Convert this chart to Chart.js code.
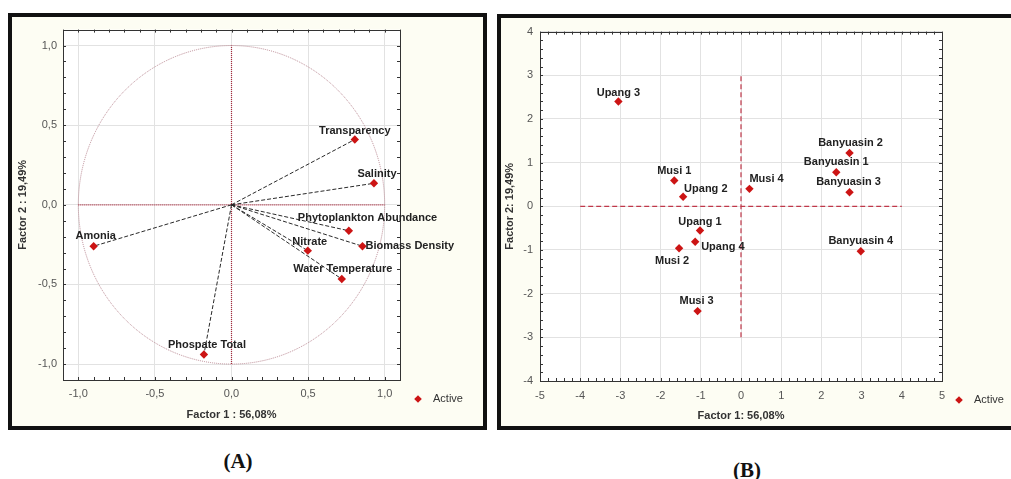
<!DOCTYPE html>
<html lang="en">
<head>
<meta charset="UTF-8">
<title>PCA factor plots</title>
<script src="https://cdn.jsdelivr.net/npm/chart.js"></script>
<style>
  body { margin: 0; background: #fff; width: 1011px; height: 479px; overflow: hidden; position: relative; }
  .frame { position: absolute; border: 4px solid #111; background: #fdfdf3; box-sizing: border-box; overflow: hidden; }
  #frameA { left: 8px; top: 13px; width: 479px; height: 417px; }
  #frameB { left: 497px; top: 14px; width: 530px; height: 416px; }
  .frame canvas { position: absolute; left: 0; top: 0; }
  .cap { position: absolute; font-family: "Liberation Serif", "DejaVu Serif", serif; font-weight: bold; font-size: 21px; transform: translate(-50%, -50%); color: #111; }
</style>
</head>
<body>
<div class="frame" id="frameA"><canvas id="chartA" width="471" height="409"></canvas></div>
<div class="frame" id="frameB"><canvas id="chartB" width="510" height="408"></canvas></div>
<div class="cap" style="left:238px; top:461px;">(A)</div>
<div class="cap" style="left:747px; top:470px;">(B)</div>

<script>
// (A) variable loadings
const variables = ["Transparency", "Salinity", "Phytoplankton Abundance", "Biomass Density",
                   "Nitrate", "Water Temperature", "Amonia", "Phospate Total"];
const factor1Loadings = [0.805, 0.93, 0.766, 0.855, 0.498, 0.72, -0.90, -0.18];
const factor2Loadings = [0.41, 0.135, -0.163, -0.26, -0.288, -0.466, -0.26, -0.94];

// (B) site scores
const sites = ["Upang 3", "Banyuasin 2", "Banyuasin 1", "Banyuasin 3", "Musi 1", "Upang 2",
               "Musi 4", "Upang 1", "Upang 4", "Musi 2", "Banyuasin 4", "Musi 3"];
const factor1Scores = [-3.05, 2.70, 2.37, 2.70, -1.66, -1.44, 0.21, -1.02, -1.14, -1.54, 2.98, -1.08];
const factor2Scores = [2.40, 1.22, 0.78, 0.32, 0.59, 0.22, 0.40, -0.555, -0.81, -0.96, -1.03, -2.40];

// label placement [dx, dy, align] relative to each point
const varLabelPos = [[0, -9, "center"], [3, -9, "center"], [-51, -13, "left"], [3, 0, "left"],
                     [2, -9, "center"], [1, -10, "center"], [2, -10, "center"], [3, -10, "center"]];
const siteLabelPos = [[0, -9, "center"], [1, -10, "center"], [0, -10, "center"], [-1, -10, "center"],
                      [0, -10, "center"], [1, -8, "left"], [0, -10, "left"], [0, -9, "center"],
                      [6, 5, "left"], [-7, 13, "center"], [0, -10, "center"], [-1, -10, "center"]];

const FONT = '"Liberation Sans", Arial, sans-serif';
Chart.defaults.font.family = FONT;
Chart.defaults.animation = false;

const RED = "#cc1414";

// frame, reference lines, circle, vectors, labels and legend
const decor = {
  id: "decor",
  beforeDraw(chart) {
    const { ctx, chartArea: a } = chart;
    ctx.save();
    ctx.fillStyle = "#fff";
    ctx.fillRect(a.left, a.top, a.right - a.left, a.bottom - a.top);
    ctx.restore();
  },
  beforeDatasetsDraw(chart, args, o) {
    const { ctx, scales: { x, y } } = chart;
    const x0 = x.getPixelForValue(0), y0 = y.getPixelForValue(0);
    ctx.save();
    ctx.lineWidth = 1;
    if (o.circle) {
      ctx.strokeStyle = "#bb8a94";
      ctx.setLineDash([1, 1]);
      ctx.beginPath();
      ctx.ellipse(x0, y0, x.getPixelForValue(1) - x0, y0 - y.getPixelForValue(1), 0, 0, Math.PI * 2);
      ctx.stroke();
    }
    ctx.strokeStyle = o.refColor;
    ctx.lineWidth = o.refWidth;
    ctx.setLineDash(o.refDash);
    ctx.beginPath();
    ctx.moveTo(x.getPixelForValue(o.hSpan[0]), y0);
    ctx.lineTo(x.getPixelForValue(o.hSpan[1]), y0);
    ctx.moveTo(x0, y.getPixelForValue(o.vSpan[0]));
    ctx.lineTo(x0, y.getPixelForValue(o.vSpan[1]));
    ctx.stroke();
    if (o.vectors) {
      ctx.strokeStyle = "#2a2a2a";
      ctx.lineWidth = 1;
      ctx.setLineDash([4, 2]);
      ctx.beginPath();
      chart.getDatasetMeta(0).data.forEach(p => { ctx.moveTo(x0, y0); ctx.lineTo(p.x, p.y); });
      ctx.stroke();
    }
    ctx.restore();
  },
  afterDatasetsDraw(chart, args, o) {
    const { ctx, chartArea: a, scales: { x, y } } = chart;
    ctx.save();
    // plot border with inward minor ticks
    ctx.strokeStyle = "#333";
    ctx.lineWidth = 1;
    ctx.strokeRect(Math.round(a.left) + 0.5, Math.round(a.top) + 0.5,
                   Math.round(a.right - a.left), Math.round(a.bottom - a.top));
    ctx.beginPath();
    const nx = Math.round((x.max - x.min) / o.minorX);
    for (let i = 0; i <= nx; i++) {
      const px = Math.round(x.getPixelForValue(x.min + i * o.minorX)) + 0.5;
      ctx.moveTo(px, a.bottom); ctx.lineTo(px, a.bottom - 3);
      ctx.moveTo(px, a.top); ctx.lineTo(px, a.top + 3);
    }
    const ny = Math.round((y.max - y.min) / o.minorY);
    for (let i = 0; i <= ny; i++) {
      const py = Math.round(y.getPixelForValue(y.min + i * o.minorY)) + 0.5;
      ctx.moveTo(a.left, py); ctx.lineTo(a.left + 3, py);
      ctx.moveTo(a.right, py); ctx.lineTo(a.right - 3, py);
    }
    ctx.stroke();

    // point labels
    ctx.font = "bold 11px " + FONT;
    ctx.fillStyle = "#222";
    ctx.textBaseline = "middle";
    chart.getDatasetMeta(0).data.forEach((p, i) => {
      const [dx, dy, align] = o.labelPos[i];
      ctx.textAlign = align;
      ctx.fillText(o.labels[i], p.x + dx, p.y + dy);
    });

    // legend
    const lx = a.right + o.legendDx, ly = a.bottom + 19;
    ctx.fillStyle = RED;
    ctx.beginPath();
    ctx.moveTo(lx, ly - 3.8); ctx.lineTo(lx + 3.8, ly); ctx.lineTo(lx, ly + 3.8); ctx.lineTo(lx - 3.8, ly);
    ctx.closePath();
    ctx.fill();
    ctx.font = "11px " + FONT;
    ctx.fillStyle = "#333";
    ctx.textAlign = "left";
    ctx.fillText("Active", lx + 15, ly);
    ctx.restore();
  }
};

const tickFont = { size: 11 };
const titleFont = { size: 11, weight: "bold" };
const comma = v => v.toFixed(1).replace(".", ",");

new Chart(document.getElementById("chartA"), {
  type: "scatter",
  data: {
    datasets: [{
      data: variables.map((_, i) => ({ x: factor1Loadings[i], y: factor2Loadings[i] })),
      pointStyle: "rectRot",
      pointRadius: 4.2,
      backgroundColor: RED,
      borderColor: RED,
      borderWidth: 0
    }]
  },
  options: {
    responsive: false,
    events: [],
    layout: { padding: { left: 0, right: 83, top: 11, bottom: 4 } },
    plugins: {
      legend: { display: false },
      tooltip: { enabled: false },
      decor: {
        circle: true, vectors: true,
        refColor: "#a8283c", refDash: [1, 1], refWidth: 1.2,
        hSpan: [-1, 1], vSpan: [-1, 1],
        minorX: 0.1, minorY: 0.1,
        labels: variables, labelPos: varLabelPos,
        legendDx: 18
      }
    },
    scales: {
      x: {
        type: "linear", min: -1.1, max: 1.1,
        ticks: { stepSize: 0.5, includeBounds: false, padding: 7, color: "#555", font: tickFont, callback: comma },
        grid: { color: "#e2e2e2", drawTicks: false },
        border: { display: false },
        title: { display: true, text: "Factor 1 : 56,08%", color: "#333", font: titleFont, padding: 0 },
        afterFit: s => { s.height = 42; }
      },
      y: {
        type: "linear", min: -1.1, max: 1.1,
        ticks: { stepSize: 0.5, includeBounds: false, padding: 6, color: "#555", font: tickFont, callback: comma },
        grid: { color: "#e2e2e2", drawTicks: false },
        border: { display: false },
        title: { display: true, text: "Factor 2 : 19,49%", color: "#333", font: titleFont, padding: { top: 4, bottom: 0 } },
        afterFit: s => { s.width = 51; }
      }
    }
  },
  plugins: [decor]
});

new Chart(document.getElementById("chartB"), {
  type: "scatter",
  data: {
    datasets: [{
      data: sites.map((_, i) => ({ x: factor1Scores[i], y: factor2Scores[i] })),
      pointStyle: "rectRot",
      pointRadius: 4.2,
      backgroundColor: RED,
      borderColor: RED,
      borderWidth: 0
    }]
  },
  options: {
    responsive: false,
    events: [],
    layout: { padding: { left: 0, right: 69, top: 12, bottom: 3 } },
    plugins: {
      legend: { display: false },
      tooltip: { enabled: false },
      decor: {
        circle: false, vectors: false,
        refColor: "#c0384a", refDash: [5, 3], refWidth: 1.2,
        hSpan: [-4, 4], vSpan: [-3, 3],
        minorX: 0.2, minorY: 0.2,
        labels: sites, labelPos: siteLabelPos,
        legendDx: 17
      }
    },
    scales: {
      x: {
        type: "linear", min: -5, max: 5,
        ticks: { stepSize: 1, padding: 8, color: "#555", font: tickFont },
        grid: { color: "#e2e2e2", drawTicks: false },
        border: { display: false },
        title: { display: true, text: "Factor 1: 56,08%", color: "#333", font: titleFont, padding: 0 },
        afterFit: s => { s.height = 42; }
      },
      y: {
        type: "linear", min: -4, max: 4,
        ticks: { stepSize: 1, padding: 7, color: "#555", font: tickFont },
        grid: { color: "#e2e2e2", drawTicks: false },
        border: { display: false },
        title: { display: true, text: "Factor 2: 19,49%", color: "#333", font: titleFont, padding: { top: 2.4, bottom: 0 } },
        afterFit: s => { s.width = 39; }
      }
    }
  },
  plugins: [decor]
});
</script>
</body>
</html>
